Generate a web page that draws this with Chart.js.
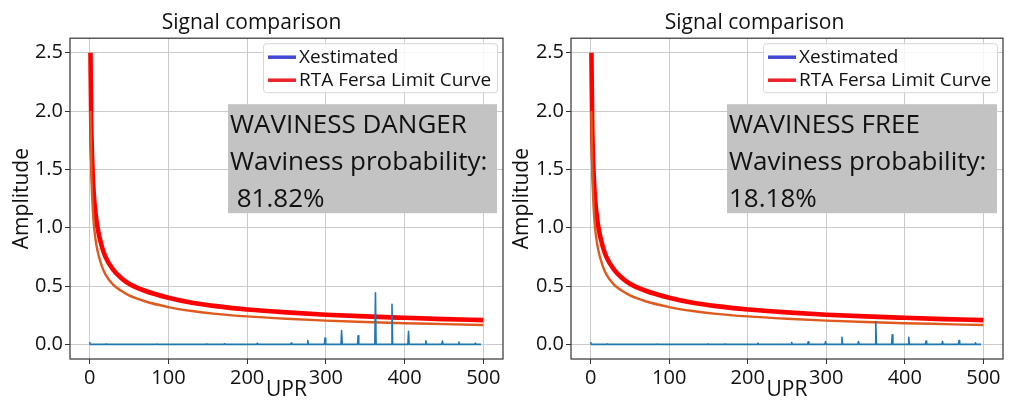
<!DOCTYPE html>
<html>
<head>
<meta charset="utf-8">
<script src="https://cdn.jsdelivr.net/npm/chart.js@4.4.0/dist/chart.umd.min.js"></script>
<style>
  body { margin: 0; background: #fff; }
  #wrap { position: relative; width: 1013px; height: 403px; }
  #wrap canvas { position: absolute; top: 0; }
</style>
</head>
<body>
<div id="wrap">
  <canvas id="leftChart" width="506" height="403" style="left:0"></canvas>
  <canvas id="rightChart" width="507" height="403" style="left:506px"></canvas>
</div>
<script>
// ===== DATA =====
const xTicks = [0, 100, 200, 300, 400, 500];
const yTicks = [0, 0.5, 1.0, 1.5, 2.0, 2.5];

// RTA Fersa limit curve and the lower threshold curve
const limitUpr = [1, 2, 3, 5, 7, 10, 15, 20, 30, 40, 50, 70, 100, 130, 160, 200, 250, 300, 350, 400, 450, 500];
const limitCurve = [2.50, 1.90, 1.61, 1.31, 1.15, 1.00, 0.85, 0.75, 0.64, 0.57, 0.52, 0.46, 0.40, 0.357, 0.328, 0.300, 0.275, 0.255, 0.240, 0.228, 0.217, 0.208];
const lowerCurve = [2.00, 1.52, 1.29, 1.05, 0.92, 0.80, 0.68, 0.60, 0.51, 0.46, 0.42, 0.37, 0.32, 0.286, 0.262, 0.240, 0.220, 0.204, 0.192, 0.182, 0.174, 0.166];

// Xestimated spectrum peaks
const peakUpr = [0, 21, 85, 149, 171, 213, 256, 277, 299, 320, 341, 363, 384, 405, 427, 448, 469, 490];
const peakLeft = [0.02, 0.004, 0.004, 0.006, 0.005, 0.010, 0.012, 0.034, 0.054, 0.119, 0.074, 0.442, 0.343, 0.113, 0.031, 0.028, 0.020, 0.011];
const peakRight = [0.02, 0.004, 0.004, 0.005, 0.005, 0.012, 0.017, 0.023, 0.023, 0.060, 0.025, 0.196, 0.082, 0.060, 0.028, 0.026, 0.034, 0.014];
const spectrumEnd = 497;

const legendLabels = ['Xestimated', 'RTA Fersa Limit Curve'];
const leftNote = ['WAVINESS DANGER', 'Waviness probability:', ' 81.82%'];
const rightNote = ['WAVINESS FREE', 'Waviness probability:', '18.18%'];

// ===== STYLE =====
const FONT = '"Open Sans", "Noto Sans", sans-serif';
const TEXT = '#111';
const GRID = '#cbcbcb';
const legendColors = ['#4347d6', '#ee2028'];

Chart.defaults.font.family = FONT;
Chart.defaults.color = TEXT;

function spectrumPoints(heights) {
  const pts = [];
  peakUpr.forEach((p, i) => {
    if (p === 0) {
      pts.push({ x: 0, y: heights[i] }, { x: 0.8, y: 0 });
    } else {
      pts.push({ x: p - 0.8, y: 0 }, { x: p, y: heights[i] }, { x: p + 0.8, y: 0 });
    }
  });
  pts.push({ x: spectrumEnd, y: 0 });
  return pts;
}

function curvePoints(values) {
  return limitUpr.map((u, i) => ({ x: u, y: values[i] }));
}

// note box, legend and frame drawn over the plot like matplotlib does
const panelPlugin = {
  id: 'panel',
  afterDatasetsDraw(chart, args, opts) {
    const { ctx, chartArea: a } = chart;
    ctx.save();

    // grey annotation box
    const bx = a.left + opts.boxLeft, by = a.top + 66;
    const bw = a.right - 6 - bx, bh = 109;
    ctx.fillStyle = '#c3c3c3';
    ctx.fillRect(bx, by, bw, bh);
    ctx.fillStyle = TEXT;
    ctx.font = '26px ' + FONT;
    ctx.textBaseline = 'middle';
    ctx.textAlign = 'left';
    opts.note.forEach((line, i) => {
      ctx.fillText(line, bx + 2, by + 21 + i * 37);
    });

    // legend
    const lw = 234, lh = 49;
    const lx = a.right - 6 - lw, ly = a.top + 5;
    ctx.fillStyle = 'rgba(255,255,255,0.85)';
    ctx.strokeStyle = '#d6d6d6';
    ctx.lineWidth = 1;
    ctx.beginPath();
    ctx.roundRect(lx + 0.5, ly + 0.5, lw, lh, 3);
    ctx.fill();
    ctx.stroke();
    ctx.font = '19px ' + FONT;
    legendLabels.forEach((label, i) => {
      const y = ly + 14 + i * 23;
      ctx.strokeStyle = legendColors[i];
      ctx.lineWidth = 3.5;
      ctx.beginPath();
      ctx.moveTo(lx + 5, y);
      ctx.lineTo(lx + 33, y);
      ctx.stroke();
      ctx.fillStyle = TEXT;
      ctx.fillText(label, lx + 36, y);
    });

    // axes frame
    ctx.strokeStyle = '#333';
    ctx.lineWidth = 1.2;
    ctx.strokeRect(a.left, a.top, a.right - a.left, a.bottom - a.top);
    ctx.restore();
  }
};

function makeChart(id, heights, note, yWidth, yTitlePad, padRight, boxLeft) {
  return new Chart(document.getElementById(id), {
    type: 'line',
    data: {
      datasets: [
        {
          label: 'Xestimated',
          data: spectrumPoints(heights),
          borderColor: '#1f77b4',
          borderWidth: 1.6,
          borderJoinStyle: 'round',
          pointRadius: 0,
          tension: 0,
          order: 0
        },
        {
          label: 'Lower curve',
          data: curvePoints(lowerCurve),
          borderColor: '#e05a1e',
          borderWidth: 2.4,
          pointRadius: 0,
          cubicInterpolationMode: 'monotone',
          order: 1
        },
        {
          label: 'RTA Fersa Limit Curve',
          data: curvePoints(limitCurve),
          borderColor: '#ff0000',
          borderWidth: 4.6,
          pointRadius: 0,
          cubicInterpolationMode: 'monotone',
          order: 2
        }
      ]
    },
    options: {
      responsive: false,
      animation: false,
      devicePixelRatio: 1,
      layout: { padding: { left: 0, right: padRight, top: 0, bottom: 0 } },
      plugins: {
        legend: { display: false },
        tooltip: { enabled: false },
        title: {
          display: true,
          text: 'Signal comparison',
          font: { size: 21, weight: 'normal' },
          color: TEXT,
          padding: { top: 10, bottom: 3 }
        },
        panel: { note: note, boxLeft: boxLeft }
      },
      scales: {
        x: {
          type: 'linear',
          min: -25,
          max: 525,
          afterBuildTicks: s => { s.ticks = xTicks.map(v => ({ value: v })); },
          afterFit: s => { s.height = 44; },
          grid: { color: GRID, lineWidth: 1, tickLength: 5, tickColor: '#333', drawTicks: true },
          border: { display: false },
          ticks: { font: { size: 20 }, color: TEXT, padding: 2, maxRotation: 0, callback: v => String(v) },
          title: { display: true, text: 'UPR', font: { size: 21 }, color: TEXT, padding: { top: 0, bottom: 0 } }
        },
        y: {
          type: 'linear',
          min: -0.125,
          max: 2.625,
          afterBuildTicks: s => { s.ticks = yTicks.map(v => ({ value: v })); },
          afterFit: s => { s.width = yWidth; },
          grid: { color: GRID, lineWidth: 1, tickLength: 5, tickColor: '#333', drawTicks: true },
          border: { display: false },
          ticks: { font: { size: 20 }, color: TEXT, padding: 2, callback: v => v.toFixed(1) },
          title: { display: true, text: 'Amplitude', font: { size: 21 }, color: TEXT, padding: { top: yTitlePad, bottom: 0 } }
        }
      }
    },
    plugins: [panelPlugin]
  });
}

makeChart('leftChart', peakLeft, leftNote, 70, 9, 3, 158);
makeChart('rightChart', peakRight, rightNote, 65, 3, 10, 156);
</script>
</body>
</html>
